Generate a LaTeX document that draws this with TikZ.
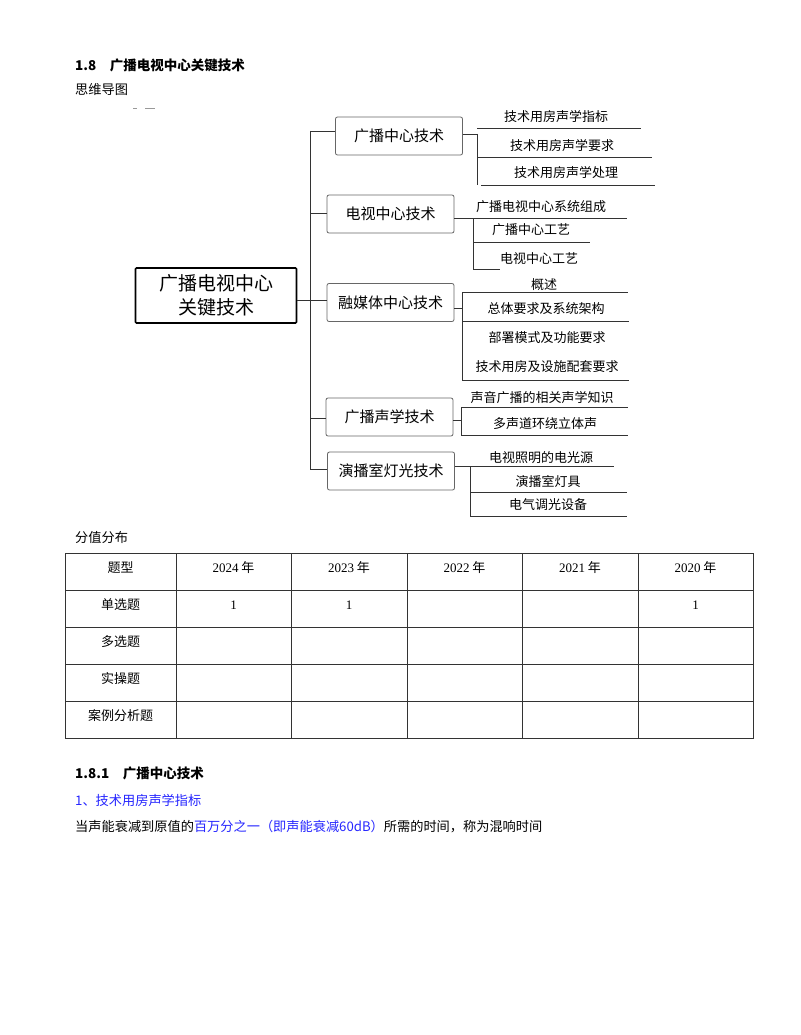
\documentclass[tikz,border=0pt]{standalone}
\usepackage{fontspec}
\setmainfont{Noto Sans CJK SC}
\newfontfamily\serifnum{Liberation Serif}
\begin{document}
\begin{tikzpicture}[x=1pt,y=-1pt,
  br/.style={draw=black!60,line width=0.8pt,rounded corners=2pt,minimum width=127pt,minimum height=38pt,font=\fontsize{15}{15}\selectfont,inner sep=0pt},
  ln/.style={line width=0.7pt,black!80},
  lf/.style={font=\fontsize{13}{13}\selectfont,inner sep=0pt},
  tx/.style={font=\fontsize{13.2}{13.2}\selectfont,inner sep=0pt,anchor=west},
  cell/.style={font=\fontsize{13}{13}\selectfont,inner sep=0pt}]
\useasboundingbox[fill=white] (0,0) rectangle (800,1035);
\node[tx,font=\bfseries\fontsize{13.5}{13.5}\selectfont] (t1) at (75,65) {1.8\quad 广播电视中心关键技术};
\node[tx] (t2) at (75,90) {思维导图};
\draw[black!40,line width=0.6pt] (133,108) -- (137,108) (145,108) -- (155,108);
% root
\node[draw,line width=1.6pt,rounded corners=1pt,minimum width=161pt,minimum height=55pt,font=\fontsize{19}{24}\selectfont,align=center,inner sep=0pt] (root) at (216,295.5) {广播电视中心\\关键技术};
% branches
\node[br] (b1) at (399,136) {广播中心技术};
\node[br] (b2) at (390.5,214) {电视中心技术};
\node[br] (b3) at (390.5,302.5) {融媒体中心技术};
\node[br] (b4) at (389.5,417) {广播声学技术};
\node[br] (b5) at (391,471) {演播室灯光技术};
\coordinate (tr) at (310,131);
\coordinate (tb) at (310,469);
\draw[ln] (tr) -- (tb);
\draw[ln] (root.east |- 0,300) -- (310,300);
\draw[ln] (310,131) -- (b1.west |- 0,131);
\draw[ln] (310,213) -- (b2.west |- 0,213);
\draw[ln] (310,300) -- (b3.west |- 0,300);
\draw[ln] (310,418) -- (b4.west |- 0,418);
\draw[ln] (310,469) -- (b5.west |- 0,469);
% leaves 1
\draw[ln] (b1.east |- 0,134) -- (477,134) (477,134) -- (477,185);
\draw[ln] (477,128) -- (641,128) (477,157) -- (652,157) (481,185) -- (655,185);
\node[lf] (l11) at (556,117) {技术用房声学指标};
\node[lf] (l12) at (562,146) {技术用房声学要求};
\node[lf] (l13) at (566,173) {技术用房声学处理};
% leaves 2
\draw[ln] (b2.east |- 0,218) -- (473,218) (473,218) -- (473,269);
\draw[ln] (473,218) -- (627,218) (473,242) -- (590,242) (473,269) -- (500,269);
\node[lf] (l21) at (541,207) {广播电视中心系统组成};
\node[lf] (l22) at (531,230) {广播中心工艺};
\node[lf] (l23) at (539,259) {电视中心工艺};
% leaves 3
\draw[ln] (b3.east |- 0,308) -- (462,308) (462,292) -- (462,380);
\draw[ln] (462,292) -- (628,292) (462,321) -- (629,321) (462,380) -- (629,380);
\node[lf] (l31) at (544,285) {概述};
\node[lf] (l32) at (546,309) {总体要求及系统架构};
\node[lf] (l33) at (547,338) {部署模式及功能要求};
\node[lf] (l34) at (547,367) {技术用房及设施配套要求};
% leaves 4
\draw[ln] (b4.east |- 0,420) -- (461,420) (461,407) -- (461,435);
\draw[ln] (461,407) -- (628,407) (461,435) -- (628,435);
\node[lf] (l41) at (542,398) {声音广播的相关声学知识};
\node[lf] (l42) at (545,424) {多声道环绕立体声};
% leaves 5
\draw[ln] (b5.east |- 0,466) -- (614,466) (470,466) -- (470,516);
\draw[ln] (470,492) -- (627,492) (470,516) -- (627,516);
\node[lf] (l51) at (541,458) {电视照明的电光源};
\node[lf] (l52) at (548,481) {演播室灯具};
\node[lf] (l53) at (548,505) {电气调光设备};
% table
\node[tx] (t3) at (75,537) {分值分布};
\draw[line width=0.8pt,black!80] (65,553) rectangle (753,738);
\foreach \y in {590,627,664,701} \draw[line width=0.8pt,black!80] (65,\y) -- (753,\y);
\foreach \x in {176,291,407,522,638} \draw[line width=0.8pt,black!80] (\x,553) -- (\x,738);
\node[cell] (c00) at (120.5,568) {题型};
\node[cell] (c01) at (233.5,568) {{\serifnum 2024} 年};
\node[cell] (c02) at (349,568) {{\serifnum 2023} 年};
\node[cell] (c03) at (464.5,568) {{\serifnum 2022} 年};
\node[cell] (c04) at (580,568) {{\serifnum 2021} 年};
\node[cell] (c05) at (695.5,568) {{\serifnum 2020} 年};
\node[cell] (c10) at (120.5,605) {单选题};
\node[cell] (c11) at (233.5,605) {\serifnum 1};
\node[cell] (c12) at (349,605) {\serifnum 1};
\node[cell] (c15) at (695.5,605) {\serifnum 1};
\node[cell] (c20) at (120.5,642) {多选题};
\node[cell] (c30) at (120.5,679) {实操题};
\node[cell] (c40) at (120.5,716) {案例分析题};
% text
\node[tx,font=\bfseries\fontsize{13.5}{13.5}\selectfont] (t4) at (75,773) {1.8.1\quad 广播中心技术};
\node[tx,text=blue!85!white] (t5) at (75,800) {1、技术用房声学指标};
\node[tx] (t6) at (75,827) {当声能衰减到原值的\textcolor{blue!85!white}{百万分之一（即声能衰减60dB）}所需的时间，称为混响时间};
\end{tikzpicture}
\end{document}
